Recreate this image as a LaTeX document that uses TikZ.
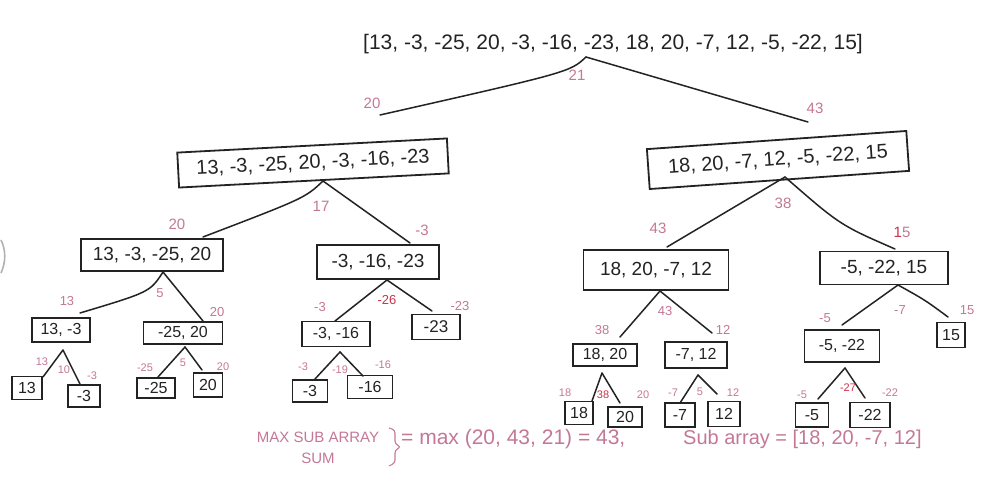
\documentclass[tikz,border=0pt]{standalone}
\usepackage{fontspec}
\setmainfont{Liberation Sans}
\newcommand\myfs[1]{\fontsize{#1}{#1}\selectfont}
\definecolor{ink}{RGB}{35,35,35}
\definecolor{lab}{RGB}{196,120,150}
\definecolor{labred}{RGB}{205,50,75}
\tikzset{
  bx/.style={draw=ink, line width=1.8pt, rectangle, inner sep=1pt, text=ink},
  lb/.style={text=lab, inner sep=0pt, font=\myfs{15}},
  lbm/.style={text=lab, inner sep=0pt, font=\myfs{13}},
  lbs/.style={text=lab, inner sep=0pt, font=\myfs{11}},
  red/.style={text=labred},
  ed/.style={draw=ink, line width=1.5pt, line cap=round},
}
\begin{document}
\begin{tikzpicture}[x=1pt,y=-1pt]
\useasboundingbox (0,0) rectangle (991,489);
\fill[white] (0,0) rectangle (991,489);

% stray mark at the left edge
\draw[gray!60, line width=1.6pt] (1,240) .. controls (6,250) and (6,262) .. (1,273);

% ---------- nodes ----------
\node[text=ink, inner sep=0pt, font=\myfs{21}] (root) at (613,44) {[13, -3, -25, 20, -3, -16, -23, 18, 20, -7, 12, -5, -22, 15]};

\node[bx, minimum width=270pt, minimum height=35pt, rotate=3, font=\myfs{20}] (L) at (313,163) {13, -3, -25, 20, -3, -16, -23};
\node[bx, minimum width=260pt, minimum height=40pt, rotate=4, font=\myfs{20}] (R) at (778,160) {18, 20, -7, 12, -5, -22, 15};

\node[bx, minimum width=142pt, minimum height=32pt, font=\myfs{19}] (LA) at (152,255) {13, -3, -25, 20};
\node[bx, minimum width=122pt, minimum height=34pt, font=\myfs{19}] (LB) at (378,262) {-3, -16, -23};
\node[bx, minimum width=145pt, minimum height=40pt, font=\myfs{19}] (RA) at (656,270) {18, 20, -7, 12};
\node[bx, minimum width=128pt, minimum height=33pt, font=\myfs{19}] (RB) at (884,268) {-5, -22, 15};

\node[bx, minimum width=58pt, minimum height=24pt, font=\myfs{16}] (LAa) at (61,330) {13, -3};
\node[bx, minimum width=79pt, minimum height=22pt, font=\myfs{16}] (LAb) at (183,333) {-25, 20};
\node[bx, minimum width=68pt, minimum height=25pt, font=\myfs{16}] (LBa) at (336,334) {-3, -16};
\node[bx, minimum width=48pt, minimum height=25pt, font=\myfs{17}] (LBb) at (436,327) {-23};
\node[bx, minimum width=64pt, minimum height=22pt, font=\myfs{16}] (RAa) at (605,355) {18, 20};
\node[bx, minimum width=62pt, minimum height=26pt, font=\myfs{16}] (RAb) at (696,355) {-7, 12};
\node[bx, minimum width=75pt, minimum height=32pt, font=\myfs{16}] (RBa) at (842,346) {-5, -22};
\node[bx, minimum width=28pt, minimum height=25pt, font=\myfs{16}] (RBb) at (951,335) {15};

\node[bx, minimum width=30pt, minimum height=23pt, font=\myfs{16}] (l1) at (27,388) {13};
\node[bx, minimum width=32pt, minimum height=22pt, font=\myfs{16}] (l2) at (84,396) {-3};
\node[bx, minimum width=38pt, minimum height=20pt, font=\myfs{16}] (l3) at (156,388) {-25};
\node[bx, minimum width=29pt, minimum height=24pt, font=\myfs{16}] (l4) at (208,385) {20};
\node[bx, minimum width=35pt, minimum height=22pt, font=\myfs{16}] (l5) at (310,391) {-3};
\node[bx, minimum width=45pt, minimum height=23pt, font=\myfs{16}] (l6) at (370,387) {-16};
\node[bx, minimum width=28pt, minimum height=23pt, font=\myfs{16}] (l7) at (579,413) {18};
\node[bx, minimum width=34pt, minimum height=20pt, font=\myfs{16}] (l8) at (625,417) {20};
\node[bx, minimum width=30pt, minimum height=24pt, font=\myfs{16}] (l9) at (680,415) {-7};
\node[bx, minimum width=32pt, minimum height=25pt, font=\myfs{16}] (l10) at (724,414) {12};
\node[bx, minimum width=33pt, minimum height=24pt, font=\myfs{16}] (l11) at (812,415) {-5};
\node[bx, minimum width=40pt, minimum height=25pt, font=\myfs{16}] (l12) at (870,415) {-22};

% ---------- joints and edge ends ----------
\coordinate (jroot) at (586,57);
\coordinate (eL) at (380,115);   \coordinate (eR) at (808,122);
\coordinate (jL) at (323,181);
\coordinate (eLA) at (203,237);  \coordinate (eLB) at (410,243);
\coordinate (jLA) at (163,272);
\coordinate (eLAa) at (80,313);  \coordinate (eLAb) at (203,321);
\coordinate (jLAa) at (63,350);
\coordinate (el1) at (43,377);   \coordinate (el2) at (80,384);
\coordinate (jLAb) at (185,347);
\coordinate (el3) at (158,377);  \coordinate (el4) at (202,370);
\coordinate (jLB) at (387,280);
\coordinate (eLBa) at (335,321); \coordinate (eLBb) at (432,311);
\coordinate (jLBa) at (340,352);
\coordinate (el5) at (315,379);  \coordinate (el6) at (363,376);
\coordinate (jR) at (785,177);
\coordinate (eRA) at (667,247);  \coordinate (eRB) at (895,249);
\coordinate (jRA) at (660,291);
\coordinate (eRAa) at (620,337); \coordinate (eRAb) at (712,333);
\coordinate (jRAa) at (602,373);
\coordinate (el7) at (592,401);  \coordinate (el8) at (620,403);
\coordinate (jRAb) at (698,375);
\coordinate (el9) at (680,403);  \coordinate (el10) at (717,394);
\coordinate (jRB) at (898,285);
\coordinate (eRBa) at (842,325); \coordinate (eRBb) at (948,317);
\coordinate (jRBa) at (845,368);
\coordinate (el11) at (818,399); \coordinate (el12) at (865,398);

% ---------- edges ----------
\draw[ed] (jroot) .. controls (570,72) .. (eL);
\draw[ed] (jroot) -- (eR);
\draw[ed] (jL) .. controls (305,198) .. (eLA);
\draw[ed] (jL) -- (eLB);
\draw[ed] (jLA) .. controls (150,292) .. (eLAa);
\draw[ed] (jLA) -- (eLAb);
\draw[ed] (jLAa) -- (el1);  \draw[ed] (jLAa) -- (el2);
\draw[ed] (jLAb) -- (el3);  \draw[ed] (jLAb) -- (el4);
\draw[ed] (jLB) -- (eLBa);  \draw[ed] (jLB) -- (eLBb);
\draw[ed] (jLBa) -- (el5);  \draw[ed] (jLBa) -- (el6);
\draw[ed] (jR) -- (eRA);
\draw[ed] (jR) .. controls (840,225) .. (eRB);
\draw[ed] (jRA) -- (eRAa);  \draw[ed] (jRA) -- (eRAb);
\draw[ed] (jRAa) -- (el7);  \draw[ed] (jRAa) -- (el8);
\draw[ed] (jRAb) -- (el9);  \draw[ed] (jRAb) -- (el10);
\draw[ed] (jRB) -- (eRBa);
\draw[ed] (jRB) .. controls (925,300) .. (eRBb);
\draw[ed] (jRBa) -- (el11); \draw[ed] (jRBa) -- (el12);

% ---------- sum labels ----------
\node[lb] (s1) at (577,75) {21};
\node[lb] (s2) at (372,103) {20};
\node[lb] (s3) at (815,108) {43};
\node[lb] (s4) at (177,224) {20};
\node[lb] (s5) at (321,206) {17};
\node[lb] (s6) at (422,230) {-3};
\node[lb] (s7) at (658,228) {43};
\node[lb] (s8) at (783,203) {38};
\node[lb] (s9) at (902,232) {{\color{labred}1}5};

\node[lbm] (m1) at (67,301) {13};
\node[lbm] (m2) at (160,293) {5};
\node[lbm] (m3) at (217,312) {20};
\node[lbm] (m4) at (320,307) {-3};
\node[lbm, red] (m5) at (387,300) {-26};
\node[lbm] (m6) at (460,306) {-23};
\node[lbm] (m7) at (602,330) {38};
\node[lbm] (m8) at (665,311) {43};
\node[lbm] (m9) at (723,330) {12};
\node[lbm] (m10) at (825,318) {-5};
\node[lbm] (m11) at (900,310) {-7};
\node[lbm] (m12) at (967,310) {15};

\node[lbs] (t1) at (42,362) {13};
\node[lbs] (t2) at (64,370) {10};
\node[lbs] (t3) at (92,376) {-3};
\node[lbs] (t4) at (145,368) {-25};
\node[lbs] (t5) at (183,363) {5};
\node[lbs] (t6) at (223,367) {20};
\node[lbs] (t7) at (303,367) {-3};
\node[lbs] (t8) at (340,370) {-19};
\node[lbs] (t9) at (383,365) {-16};
\node[lbs] (t10) at (565,393) {18};
\node[lbs, red] (t11) at (603,395) {38};
\node[lbs] (t12) at (643,395) {20};
\node[lbs] (t13) at (673,393) {-7};
\node[lbs] (t14) at (700,392) {5};
\node[lbs] (t15) at (733,393) {12};
\node[lbs] (t16) at (802,395) {-5};
\node[lbs, red] (t17) at (848,388) {-27};
\node[lbs] (t18) at (890,393) {-22};

% ---------- result line ----------
\node[text=lab, inner sep=0pt, font=\myfs{15}] (res1) at (318,437) {MAX SUB ARRAY};
\node[text=lab, inner sep=0pt, font=\myfs{15}] (res2) at (318,458) {SUM};
\draw[lab, line width=1.1pt, rounded corners=3pt] (389,428) -- (395,430) -- (395,444) -- (401,447) -- (395,450) -- (395,463) -- (389,466);
\node[text=lab, inner sep=0pt, anchor=west, font=\myfs{21}] (res3) at (401,439) {= max (20, 43, 21) = 43,};
\node[text=lab, inner sep=0pt, anchor=west, font=\myfs{20}] (res4) at (683,439) {Sub array = [18, 20, -7, 12]};
\end{tikzpicture}
\end{document}
